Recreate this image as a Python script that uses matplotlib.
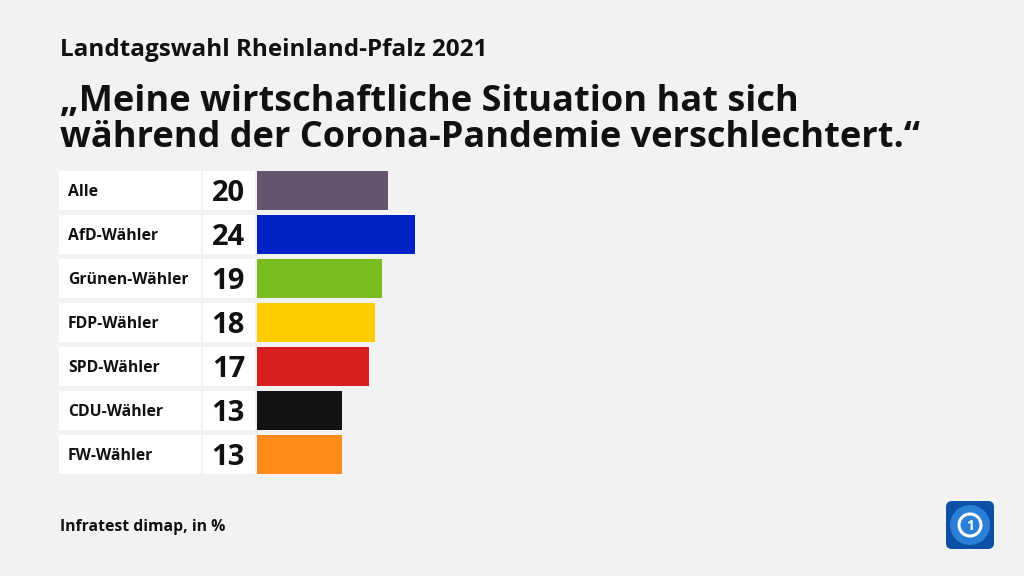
import matplotlib as mpl

mpl.use("Agg")
import matplotlib.pyplot as plt  # noqa: E402
from matplotlib.patches import FancyBboxPatch, Circle  # noqa: E402
from matplotlib.transforms import blended_transform_factory  # noqa: E402

# data
groups = ["Alle", "AfD-Wähler", "Grünen-Wähler", "FDP-Wähler",
          "SPD-Wähler", "CDU-Wähler", "FW-Wähler"]
values = [20, 24, 19, 18, 17, 13, 13]
colors = ["#67556f", "#0021c5", "#78bc1f", "#ffcc00",
          "#d71f1f", "#121212", "#ff8c1a"]

BG = "#f2f2f2"
FONT = "Open Sans"
W, H = 1024, 576
PX_PER_UNIT = 6.57
BAR_X0 = 257          # pixel where bars start
ROW_TOP, ROW_PITCH = 168, 44

plt.rcParams.update({"font.family": [FONT, "DejaVu Sans"]})
fig = plt.figure(figsize=(W / 100, H / 100), dpi=100, facecolor=BG)

# bar axes: x in percent, mapped to pixels via the axes position
n = len(groups)
xmin = -BAR_X0 / PX_PER_UNIT
xmax = (W - BAR_X0) / PX_PER_UNIT
top = ROW_TOP
bottom = ROW_TOP + ROW_PITCH * n
ax = fig.add_axes([0, (H - bottom) / H, 1, (bottom - top) / H])
ax.set_xlim(xmin, xmax)
ax.set_ylim(n - 0.5, -0.5)
ax.axis("off")
ax.set_facecolor("none")

bh = 39 / ROW_PITCH
ax.barh(range(n), values, height=bh, color=colors, left=0)

# label and number boxes in figure-x / data-y coordinates
tr = blended_transform_factory(fig.transFigure, ax.transData)
for i, (g, v) in enumerate(zip(groups, values)):
    ax.add_patch(mpl.patches.Rectangle((59 / W, i - bh / 2), (201 - 59) / W, bh,
                                       transform=tr, color="white", lw=0))
    ax.add_patch(mpl.patches.Rectangle((203 / W, i - bh / 2), (255 - 203) / W, bh,
                                       transform=tr, color="white", lw=0))
    ax.text(68 / W, i + 0.04, g, transform=tr, ha="left", va="center",
            fontsize=11.3, fontweight="bold", color="#111111")
    ax.text(245 / W, i + 0.08, f"{v}", transform=tr, ha="right", va="center",
            fontsize=21, fontweight="bold", color="#111111")

# titles
fig.text(60 / W, 1 - 50 / H, "Landtagswahl Rheinland-Pfalz 2021",
         ha="left", va="center", fontsize=17.5, fontweight="bold",
         color="#111111")
fig.text(60 / W, 1 - 120 / H,
         "„Meine wirtschaftliche Situation hat sich\n"
         "während der Corona-Pandemie verschlechtert.“",
         ha="left", va="center", fontsize=26, fontweight="bold",
         color="#111111", linespacing=1.0)
fig.text(60 / W, 1 - 527 / H, "Infratest dimap, in %", ha="left", va="center",
         fontsize=11.3, fontweight="bold", color="#111111")

# logo (rough)
lax = fig.add_axes([945 / W, 1 - 550 / H, 50 / W, 50 / H])
lax.set_xlim(0, 1)
lax.set_ylim(0, 1)
lax.axis("off")
lax.add_patch(FancyBboxPatch((0.02, 0.02), 0.96, 0.96,
                             boxstyle="round,pad=0,rounding_size=0.12",
                             fc="#0b4fa6", ec="none"))
lax.add_patch(Circle((0.5, 0.5), 0.4, fc="#2a7fd6", ec="none"))
lax.add_patch(Circle((0.5, 0.5), 0.22, fc="none", ec="white", lw=2.2))
lax.text(0.5, 0.49, "1", ha="center", va="center", fontsize=10,
         fontweight="bold", color="white")

fig.savefig("out.png", dpi=100, facecolor=BG)
